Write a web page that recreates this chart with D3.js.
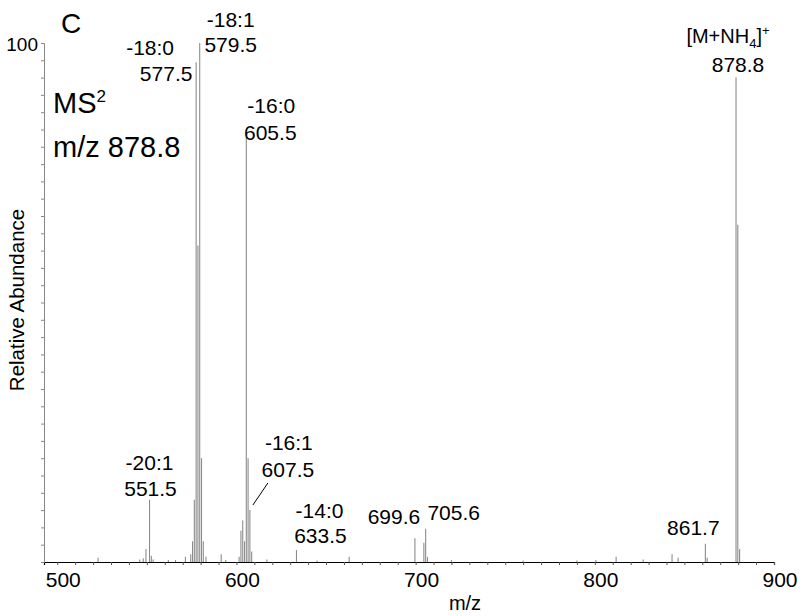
<!DOCTYPE html>
<html>
<head>
<meta charset="utf-8">
<script src="https://cdn.jsdelivr.net/npm/d3@7"></script>
<style>
  body { margin: 0; background: #fff; }
  svg { font-family: "Liberation Sans", Arial, sans-serif; }
</style>
</head>
<body>
<div id="chart"></div>
<script>
// Picos del espectro MS2 (m/z y abundancia relativa, %)
const peakMz = [
  522.8, 546.0, 548.0, 549.5, 551.5, 552.5, 553.5, 562.0, 566.0,
  571.5, 574.5, 575.5, 576.5, 577.5, 578.5, 579.5, 580.5, 581.5, 583.0,
  591.5, 594.0, 601.5, 602.5, 603.5, 604.5, 605.5, 606.5, 607.5, 608.5,
  617.0, 633.5, 645.0, 662.9, 699.6, 704.6, 705.6, 706.6, 720.0,
  760.0, 790.0, 800.6, 811.9, 827.0, 843.1, 846.5, 861.7, 862.7,
  878.8, 879.8, 880.8
];
const peakAbund = [
  0.8, 0.5, 0.7, 2.5, 12.0, 1.2, 0.5, 0.4, 0.4,
  1.0, 1.5, 4.0, 12.0, 96.3, 61.0, 100.0, 20.0, 4.0, 1.0,
  1.5, 0.4, 1.0, 6.0, 8.0, 4.0, 81.9, 20.0, 10.0, 2.0,
  0.5, 2.3, 0.3, 1.0, 4.6, 3.7, 6.4, 1.0, 0.4,
  0.3, 0.3, 0.4, 1.0, 0.5, 1.5, 0.8, 3.5, 0.8,
  93.4, 65.0, 2.5
];

// Etiquetas de picos
const labelMz   = [551.5, 551.5, 577.5, 577.5, 579.5, 579.5, 605.5, 605.5,
                   607.5, 607.5, 633.5, 633.5, 699.6, 705.6, 861.7, 878.8];
const labelText = ["-20:1", "551.5", "-18:0", "577.5", "-18:1", "579.5", "-16:0", "605.5",
                   "-16:1", "607.5", "-14:0", "633.5", "699.6", "705.6", "861.7", "878.8"];

// Ejes
const xTickLabels = [500, 600, 700, 800, 900];
const yTickLabels = [100];

const W = 800, H = 616;
const margin = { top: 43, right: 26, bottom: 54, left: 44 };

const svg = d3.select("#chart").append("svg")
  .attr("width", W).attr("height", H);

// Escalas
const x = d3.scaleLinear().domain([492.6, 900]).range([margin.left, W - margin.right]);
const y = d3.scaleLinear().domain([0, 100]).range([H - margin.bottom, margin.top]);

// Eje X: ticks menores cada 10
const xAxis = svg.append("g")
  .attr("transform", `translate(0, ${y(0)})`)
  .call(d3.axisBottom(x)
    .tickValues(d3.range(500, 901, 10))
    .tickSize(3)
    .tickFormat(""));
xAxis.select(".domain").attr("stroke", "#000").attr("stroke-width", 1.2);
xAxis.selectAll(".tick line").attr("stroke", "#555");

svg.append("g")
  .selectAll("text")
  .data(xTickLabels)
  .join("text")
  .attr("x", d => x(d) + 6)
  .attr("y", y(0) + 25)
  .attr("text-anchor", "middle")
  .attr("font-size", 21)
  .text(d => d);

// Eje Y
const yAxis = svg.append("g")
  .attr("transform", `translate(${margin.left}, 0)`)
  .call(d3.axisLeft(y)
    .tickValues(d3.range(0, 100.1, 10 / 3))
    .tickSize(3)
    .tickFormat(""));
yAxis.select(".domain").attr("stroke", "#888").attr("stroke-width", 1);
yAxis.selectAll(".tick line").attr("stroke", "#888");

svg.append("g")
  .selectAll("text")
  .data(yTickLabels)
  .join("text")
  .attr("x", margin.left - 6)
  .attr("y", d => y(d) + 8)
  .attr("text-anchor", "end")
  .attr("font-size", 19)
  .text(d => d);

// Picos
svg.append("g")
  .selectAll("line")
  .data(peakMz.map((m, i) => ({ m, a: peakAbund[i] })))
  .join("line")
  .attr("x1", d => x(d.m))
  .attr("x2", d => x(d.m))
  .attr("y1", y(0))
  .attr("y2", d => y(d.a))
  .attr("stroke", "#8c8c8c")
  .attr("stroke-width", 1.1);

// Etiquetas de picos (desplazamiento respecto al pico)
const labelDx = [0, 1, -46, -30, 31, 31, 25, 24, 39, 38, 23, 24, -21, 28, -12, 2];
const labelY  = [470, 496, 55, 81, 27, 52, 113, 140, 450, 477, 518, 543, 524, 520, 535, 72];

svg.append("g")
  .selectAll("text")
  .data(labelMz.map((m, i) => ({ m, t: labelText[i], dx: labelDx[i], yy: labelY[i] })))
  .join("text")
  .attr("x", d => x(d.m) + d.dx)
  .attr("y", d => d.yy)
  .attr("text-anchor", "middle")
  .attr("font-size", 21)
  .text(d => d.t);

// [M+NH4]+
const ion = svg.append("text")
  .attr("x", x(878.8) - 8)
  .attr("y", 43)
  .attr("text-anchor", "middle")
  .attr("font-size", 20);
ion.append("tspan").text("[M+NH");
ion.append("tspan").attr("font-size", 13).attr("dy", 5).text("4");
ion.append("tspan").attr("dy", -5).text("]");
ion.append("tspan").attr("font-size", 13).attr("dy", -8).text("+");

// Línea guía de 607.5
svg.append("line")
  .attr("x1", x(607.5) + 3).attr("y1", 505)
  .attr("x2", x(607.5) + 18).attr("y2", 483)
  .attr("stroke", "#000").attr("stroke-width", 1);

// Rótulo del panel y precursor
svg.append("text").attr("x", 61).attr("y", 33).attr("font-size", 28).text("C");

const ms = svg.append("text").attr("x", 53).attr("y", 113).attr("font-size", 29);
ms.append("tspan").text("MS");
ms.append("tspan").attr("font-size", 17).attr("dy", -11).text("2");

svg.append("text").attr("x", 53).attr("y", 157).attr("font-size", 29).text("m/z 878.8");

// Títulos de ejes
svg.append("text")
  .attr("x", 465)
  .attr("y", 610)
  .attr("text-anchor", "middle")
  .attr("font-size", 20)
  .text("m/z");

svg.append("text")
  .attr("transform", `translate(24, 300) rotate(-90)`)
  .attr("text-anchor", "middle")
  .attr("font-size", 20.5)
  .text("Relative Abundance");
</script>
</body>
</html>
